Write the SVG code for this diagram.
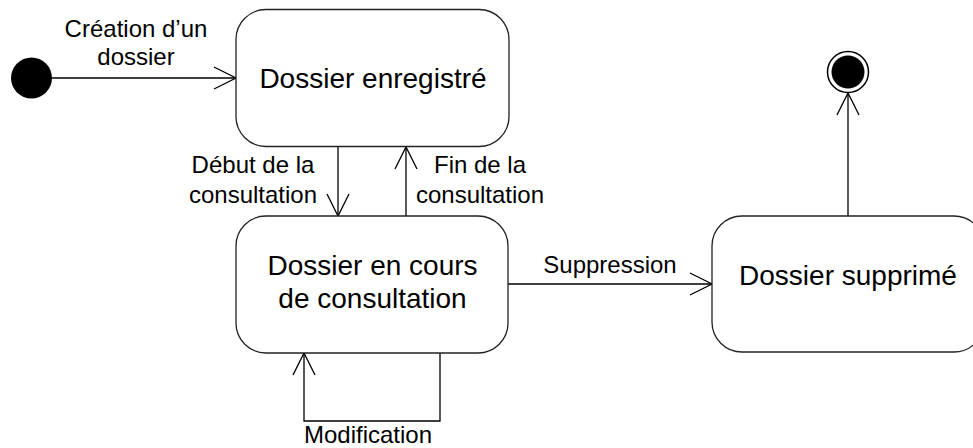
<svg xmlns="http://www.w3.org/2000/svg" width="973" height="448" viewBox="0 0 973 448">
<defs>
<marker id="arr" markerUnits="userSpaceOnUse" markerWidth="26" markerHeight="26" refX="23" refY="12" orient="auto" overflow="visible">
<path d="M1,1 L23,12 L1,23" fill="none" stroke="#000" stroke-width="1.3"/>
</marker>
</defs>
<style>
.state{fill:#fff;stroke:#222;stroke-width:1.3}
.big{font-family:"Liberation Sans",Arial,sans-serif;font-size:28px;fill:#000;text-anchor:middle}
.lbl{font-family:"Liberation Sans",Arial,sans-serif;font-size:24px;fill:#000;text-anchor:middle}
.edge{fill:none;stroke:#000;stroke-width:1.3}
</style>
<rect width="973" height="448" fill="#fff"/>
<g id="connectors">
<path class="edge" d="M52,78 L236,78" marker-end="url(#arr)"/>
<path class="edge" d="M338,147 L338,216" marker-end="url(#arr)"/>
<path class="edge" d="M406,216 L406,147" marker-end="url(#arr)"/>
<path class="edge" d="M508,284 L712,284" marker-end="url(#arr)"/>
<path class="edge" d="M848,216 L848,93" marker-end="url(#arr)"/>
<path class="edge" d="M440,353 L440,421 L304,421 L304,353" marker-end="url(#arr)"/>
<text class="lbl" x="136" y="37">Création d’un</text>
<text class="lbl" x="136" y="65">dossier</text>
<text class="lbl" x="253" y="173">Début de la</text>
<text class="lbl" x="253" y="203">consultation</text>
<text class="lbl" x="480" y="173">Fin de la</text>
<text class="lbl" x="480" y="203">consultation</text>
<text class="lbl" x="610" y="273">Suppression</text>
<text class="lbl" x="368" y="443">Modification</text>
</g>
<g id="initial">
<circle cx="31.5" cy="78" r="20.5" fill="#000"/>
</g>
<g id="final">
<circle cx="848" cy="72" r="20.5" fill="#fff" stroke="#000" stroke-width="1.5"/>
<circle cx="848" cy="72" r="16.5" fill="#000"/>
</g>
<g id="enregistre">
<rect class="state" x="236" y="9.5" width="273" height="137" rx="30" ry="30"/>
<text class="big" x="373" y="88">Dossier enregistré</text>
</g>
<g id="consultation">
<rect class="state" x="236" y="216" width="272" height="137" rx="30" ry="30"/>
<text class="big" x="372.5" y="275">Dossier en cours</text>
<text class="big" x="372.5" y="308">de consultation</text>
</g>
<g id="supprime">
<rect class="state" x="712" y="216" width="272" height="136" rx="30" ry="30"/>
<text class="big" x="848" y="285">Dossier supprimé</text>
</g>
</svg>
